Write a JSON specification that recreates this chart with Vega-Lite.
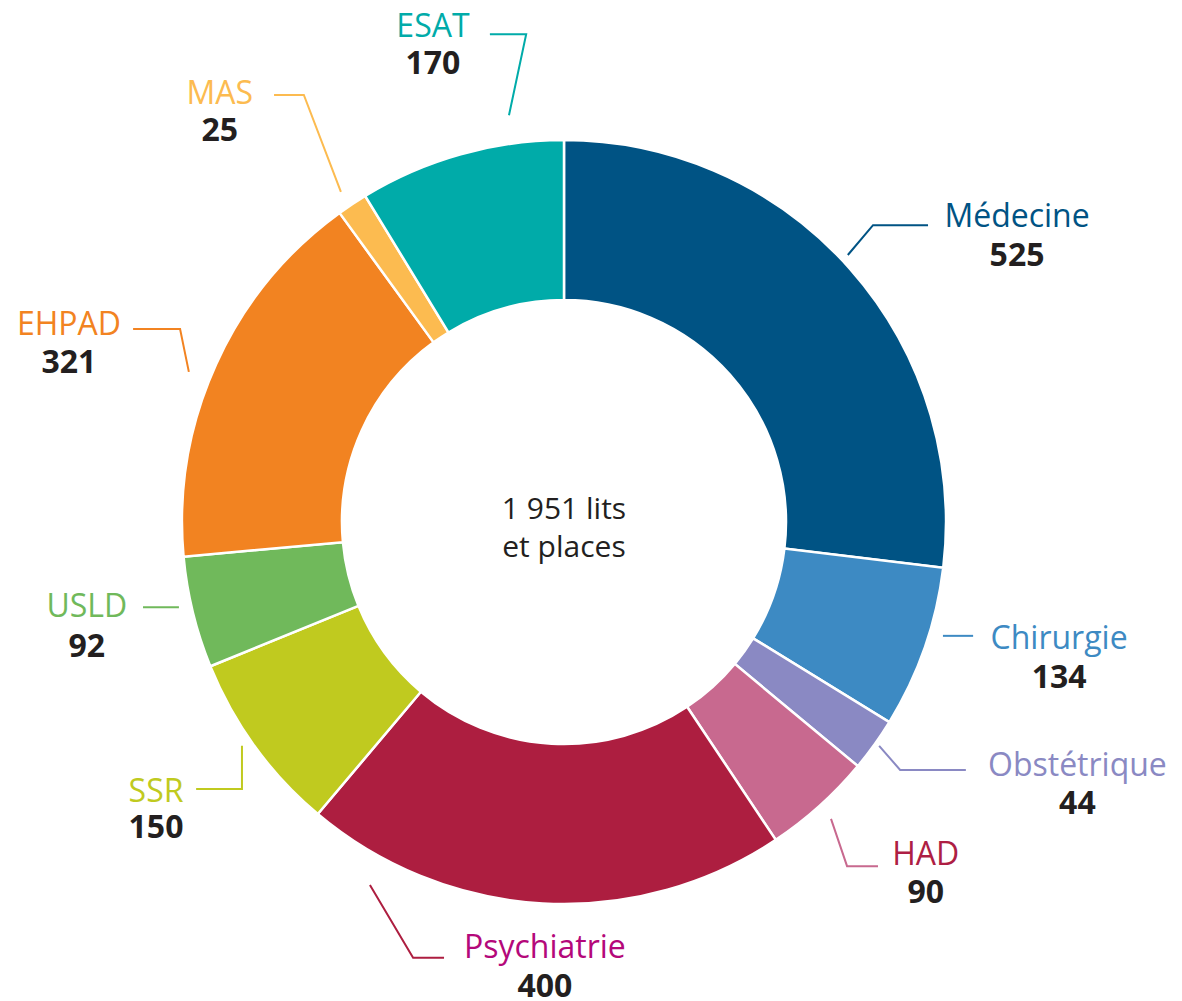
{
  "$schema": "https://vega.github.io/schema/vega-lite/v6.json",
  "width": 1182,
  "height": 1001,
  "padding": 0,
  "autosize": {"type": "none"},
  "background": "white",
  "config": {"view": {"stroke": null}, "font": "Open Sans"},
  "datasets": {
    "secteurs": [
      {"categorie": "Médecine", "valeur": 525, "ordre": 1},
      {"categorie": "Chirurgie", "valeur": 134, "ordre": 2},
      {"categorie": "Obstétrique", "valeur": 44, "ordre": 3},
      {"categorie": "HAD", "valeur": 90, "ordre": 4},
      {"categorie": "Psychiatrie", "valeur": 400, "ordre": 5},
      {"categorie": "SSR", "valeur": 150, "ordre": 6},
      {"categorie": "USLD", "valeur": 92, "ordre": 7},
      {"categorie": "EHPAD", "valeur": 321, "ordre": 8},
      {"categorie": "MAS", "valeur": 25, "ordre": 9},
      {"categorie": "ESAT", "valeur": 170, "ordre": 10}
    ],
    "traits": [
      {"categorie": "ESAT", "etape": 1, "ax": -0.144, "ay": 1.065},
      {"categorie": "ESAT", "etape": 2, "ax": -0.099, "ay": 1.277},
      {"categorie": "ESAT", "etape": 3, "ax": -0.194, "ay": 1.277},
      {"categorie": "MAS", "etape": 1, "ax": -0.584, "ay": 0.864},
      {"categorie": "MAS", "etape": 2, "ax": -0.681, "ay": 1.118},
      {"categorie": "MAS", "etape": 3, "ax": -0.759, "ay": 1.118},
      {"categorie": "Médecine", "etape": 1, "ax": 0.743, "ay": 0.699},
      {"categorie": "Médecine", "etape": 2, "ax": 0.809, "ay": 0.777},
      {"categorie": "Médecine", "etape": 3, "ax": 0.953, "ay": 0.777},
      {"categorie": "Chirurgie", "etape": 1, "ax": 0.992, "ay": -0.298},
      {"categorie": "Chirurgie", "etape": 2, "ax": 1.071, "ay": -0.298},
      {"categorie": "Obstétrique", "etape": 1, "ax": 0.825, "ay": -0.586},
      {"categorie": "Obstétrique", "etape": 2, "ax": 0.88, "ay": -0.649},
      {"categorie": "Obstétrique", "etape": 3, "ax": 1.052, "ay": -0.649},
      {"categorie": "HAD", "etape": 1, "ax": 0.699, "ay": -0.777},
      {"categorie": "HAD", "etape": 2, "ax": 0.741, "ay": -0.901},
      {"categorie": "HAD", "etape": 3, "ax": 0.822, "ay": -0.901},
      {"categorie": "Psychiatrie", "etape": 1, "ax": -0.508, "ay": -0.95},
      {"categorie": "Psychiatrie", "etape": 2, "ax": -0.395, "ay": -1.141},
      {"categorie": "Psychiatrie", "etape": 3, "ax": -0.314, "ay": -1.141},
      {"categorie": "EHPAD", "etape": 1, "ax": -0.982, "ay": 0.393},
      {"categorie": "EHPAD", "etape": 2, "ax": -1.005, "ay": 0.505},
      {"categorie": "EHPAD", "etape": 3, "ax": -1.128, "ay": 0.505},
      {"categorie": "USLD", "etape": 1, "ax": -1.102, "ay": -0.223},
      {"categorie": "USLD", "etape": 2, "ax": -1.008, "ay": -0.223},
      {"categorie": "SSR", "etape": 1, "ax": -0.843, "ay": -0.586},
      {"categorie": "SSR", "etape": 2, "ax": -0.843, "ay": -0.699},
      {"categorie": "SSR", "etape": 3, "ax": -0.963, "ay": -0.699}
    ],
    "etiquettes": [
      {"categorie": "ESAT", "lx": -0.343, "yNom": 1.27, "yVal": 1.172},
      {"categorie": "MAS", "lx": -0.901, "yNom": 1.094, "yVal": 0.997},
      {"categorie": "Médecine", "lx": 1.186, "yNom": 0.772, "yVal": 0.67},
      {"categorie": "Chirurgie", "lx": 1.296, "yNom": -0.332, "yVal": -0.435},
      {"categorie": "Obstétrique", "lx": 1.344, "yNom": -0.665, "yVal": -0.764},
      {"categorie": "HAD", "lx": 0.947, "yNom": -0.898, "yVal": -0.997},
      {"categorie": "Psychiatrie", "lx": -0.05, "yNom": -1.141, "yVal": -1.243},
      {"categorie": "EHPAD", "lx": -1.296, "yNom": 0.49, "yVal": 0.39},
      {"categorie": "USLD", "lx": -1.249, "yNom": -0.249, "yVal": -0.353},
      {"categorie": "SSR", "lx": -1.068, "yNom": -0.733, "yVal": -0.827}
    ]
  },
  "layer": [
    {
      "data": {"name": "secteurs"},
      "mark": {"type": "arc", "innerRadius": 222, "outerRadius": 382, "stroke": "white", "strokeWidth": 2.5},
      "encoding": {
        "x": {"datum": 0, "type": "quantitative", "scale": {"domain": [-1.4764, 1.6178], "nice": false, "zero": false}, "axis": null},
        "y": {"datum": 0, "type": "quantitative", "scale": {"domain": [-1.2539, 1.3665], "nice": false, "zero": false}, "axis": null},
        "theta": {"field": "valeur", "type": "quantitative", "stack": true},
        "order": {"field": "ordre", "type": "quantitative"},
        "color": {
          "field": "categorie", "type": "nominal", "legend": null,
          "scale": {
            "domain": ["Médecine", "Chirurgie", "Obstétrique", "HAD", "Psychiatrie", "SSR", "USLD", "EHPAD", "MAS", "ESAT"],
            "range": ["#005384", "#3d8ac3", "#8a89c3", "#c8698f", "#ad1e40", "#c0ca1f", "#70b95b", "#f28321", "#fcbb50", "#00aba9"]
          }
        }
      }
    },
    {
      "data": {"name": "traits"},
      "mark": {"type": "line", "strokeWidth": 2},
      "encoding": {
        "x": {"field": "ax", "type": "quantitative", "scale": {"domain": [-1.4764, 1.6178], "nice": false, "zero": false}, "axis": null},
        "y": {"field": "ay", "type": "quantitative", "scale": {"domain": [-1.2539, 1.3665], "nice": false, "zero": false}, "axis": null},
        "detail": {"field": "categorie", "type": "nominal"},
        "order": {"field": "etape", "type": "quantitative"},
        "color": {"field": "categorie", "type": "nominal", "legend": null}
      }
    },
    {
      "data": {"name": "etiquettes"},
      "mark": {"type": "text", "fontSize": 32, "align": "center", "baseline": "alphabetic"},
      "encoding": {
        "x": {"field": "lx", "type": "quantitative"},
        "y": {"field": "yNom", "type": "quantitative"},
        "text": {"field": "categorie", "type": "nominal"},
        "fill": {
          "field": "categorie", "type": "nominal", "legend": null,
          "scale": {
            "domain": ["Médecine", "Chirurgie", "Obstétrique", "HAD", "Psychiatrie", "SSR", "USLD", "EHPAD", "MAS", "ESAT"],
            "range": ["#005384", "#3d8ac3", "#8a89c3", "#ae1e44", "#b4087a", "#c0ca1f", "#70b95b", "#f28321", "#fcbb50", "#00aba9"]
          }
        }
      }
    },
    {
      "data": {"name": "etiquettes"},
      "transform": [
        {"lookup": "categorie", "from": {"data": {"name": "secteurs"}, "key": "categorie", "fields": ["valeur"]}}
      ],
      "mark": {"type": "text", "fontSize": 32, "fontWeight": "bold", "align": "center", "baseline": "alphabetic", "color": "#231f20"},
      "encoding": {
        "x": {"field": "lx", "type": "quantitative"},
        "y": {"field": "yVal", "type": "quantitative"},
        "text": {"field": "valeur", "type": "quantitative"}
      }
    },
    {
      "data": {"values": [{}]},
      "mark": {"type": "text", "text": ["1 951 lits", "et places"], "fontSize": 30, "align": "center", "baseline": "alphabetic", "lineHeight": 38, "color": "#231f20"},
      "encoding": {
        "x": {"datum": 0, "type": "quantitative"},
        "y": {"datum": 0.008, "type": "quantitative"}
      }
    }
  ]
}
